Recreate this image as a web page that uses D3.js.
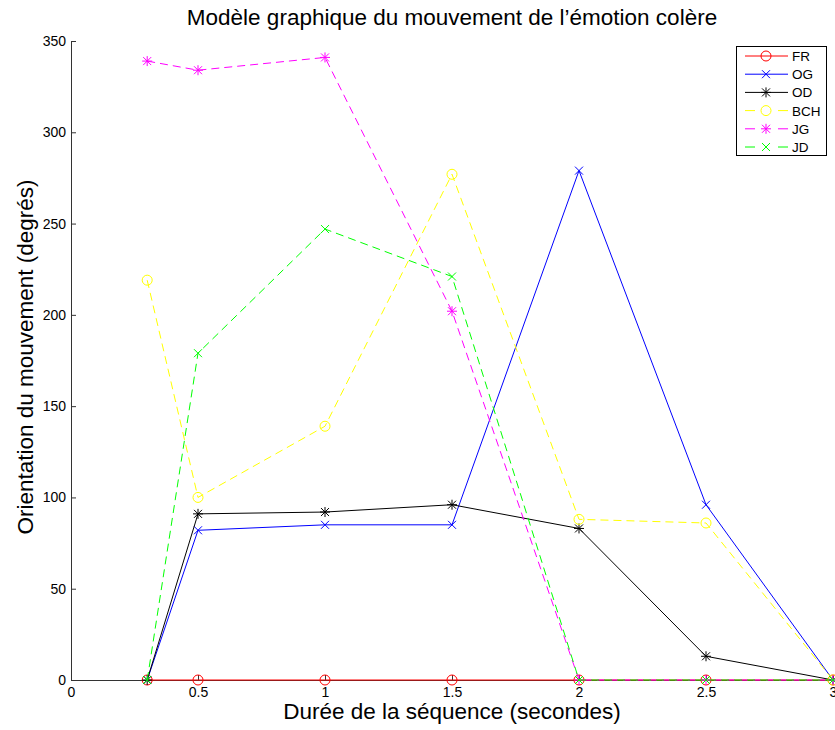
<!DOCTYPE html>
<html>
<head>
<meta charset="utf-8">
<script src="https://cdn.jsdelivr.net/npm/d3@7"></script>
<style>
  body { margin: 0; background: #fff; }
  text { font-family: "Liberation Sans", Arial, Helvetica, sans-serif; }
</style>
</head>
<body>
<svg id="chart" width="835" height="730"></svg>
<script>
const xValues = [0.3, 0.5, 1, 1.5, 2, 2.5, 3];
const FR  = [0, 0, 0, 0, 0, 0, 0];
const OG  = [0, 82, 85, 85, 279, 96, 0];
const OD  = [0, 91, 92, 96, 83, 13, 0];
const BCH = [219, 100, 139, 277, 88, 86, 0];
const JG  = [339, 334, 341, 202, 0, 0, 0];
const JD  = [0, 179, 247, 221, 0, 0, 0];
const xTicks = [0, 0.5, 1, 1.5, 2, 2.5, 3];
const yTicks = [0, 50, 100, 150, 200, 250, 300, 350];

const series = [
  {name: "FR",  values: FR,  color: "#ff0000", dash: null,  marker: "o"},
  {name: "OG",  values: OG,  color: "#0000ff", dash: null,  marker: "x"},
  {name: "OD",  values: OD,  color: "#000000", dash: null,  marker: "*"},
  {name: "BCH", values: BCH, color: "#ffff00", dash: "8,5", marker: "o"},
  {name: "JG",  values: JG,  color: "#ff00ff", dash: "8,5", marker: "*"},
  {name: "JD",  values: JD,  color: "#00ff00", dash: "8,5", marker: "x"}
];

const svg = d3.select("#chart");
const mLeft = 71, mRight = 833, mTop = 41, mBottom = 680;
const x = d3.scaleLinear().domain([0, 3]).range([mLeft, mRight]);
const y = d3.scaleLinear().domain([0, 350]).range([mBottom, mTop]);

// axes
const xAxis = svg.append("g").attr("transform", `translate(0,${mBottom})`)
  .call(d3.axisBottom(x).tickValues(xTicks).tickFormat(d => d).tickSizeInner(-5).tickSizeOuter(0).tickPadding(7));
const yAxis = svg.append("g").attr("transform", `translate(${mLeft},0)`)
  .call(d3.axisLeft(y).tickValues(yTicks).tickSizeInner(-5).tickSizeOuter(0).tickPadding(5));
[xAxis, yAxis].forEach(g => {
  g.selectAll("path").attr("stroke", "#333").attr("stroke-width", 1);
  g.selectAll("line").attr("stroke", "#333");
  g.selectAll("text").attr("font-size", 14).attr("fill", "#000")
    .attr("font-family", "'Liberation Sans', Arial, sans-serif");
});

function drawMarker(g, type, cx, cy, color) {
  const s = 4;
  if (type === "o") {
    g.append("circle").attr("cx", cx).attr("cy", cy).attr("r", s + 1)
      .attr("fill", "none").attr("stroke", color).attr("stroke-width", 1);
  } else if (type === "x") {
    g.append("path").attr("d", `M${cx - s},${cy - s}L${cx + s},${cy + s}M${cx - s},${cy + s}L${cx + s},${cy - s}`)
      .attr("stroke", color).attr("stroke-width", 1).attr("fill", "none");
  } else if (type === "*") {
    g.append("path").attr("d",
      `M${cx - s},${cy - s}L${cx + s},${cy + s}M${cx - s},${cy + s}L${cx + s},${cy - s}` +
      `M${cx - s - 1},${cy}L${cx + s + 1},${cy}M${cx},${cy - s - 1}L${cx},${cy + s + 1}`)
      .attr("stroke", color).attr("stroke-width", 1).attr("fill", "none");
  }
}

const line = d3.line().x((d, i) => x(xValues[i])).y(d => y(d));
series.forEach(s => {
  const g = svg.append("g");
  g.append("path").datum(s.values).attr("d", line)
    .attr("fill", "none").attr("stroke", s.color).attr("stroke-width", 1)
    .attr("stroke-dasharray", s.dash);
  s.values.forEach((v, i) => drawMarker(g, s.marker, x(xValues[i]), y(v), s.color));
});

// legend
const lg = svg.append("g");
lg.append("rect").attr("x", 736.5).attr("y", 46.5).attr("width", 90).attr("height", 109)
  .attr("fill", "#fff").attr("stroke", "#000").attr("stroke-width", 1);
series.forEach((s, i) => {
  const ly = 56 + i * 18.2;
  lg.append("line").attr("x1", 745).attr("x2", 788).attr("y1", ly).attr("y2", ly)
    .attr("stroke", s.color).attr("stroke-width", 1).attr("stroke-dasharray", s.dash ? "10,23" : null);
  drawMarker(lg, s.marker, 766, ly, s.color);
  lg.append("text").attr("x", 792).attr("y", ly + 5).attr("font-size", 13.5).text(s.name);
});

// titles
svg.append("text").attr("x", 452).attr("y", 25).attr("text-anchor", "middle")
  .attr("font-size", 22.5).text("Modèle graphique du mouvement de l’émotion colère");
svg.append("text").attr("x", 452).attr("y", 719).attr("text-anchor", "middle")
  .attr("font-size", 22.5).text("Durée de la séquence (secondes)");
svg.append("text").attr("transform", "translate(33,357) rotate(-90)").attr("text-anchor", "middle")
  .attr("font-size", 22.5).text("Orientation du mouvement (degrés)");
</script>
</body>
</html>
